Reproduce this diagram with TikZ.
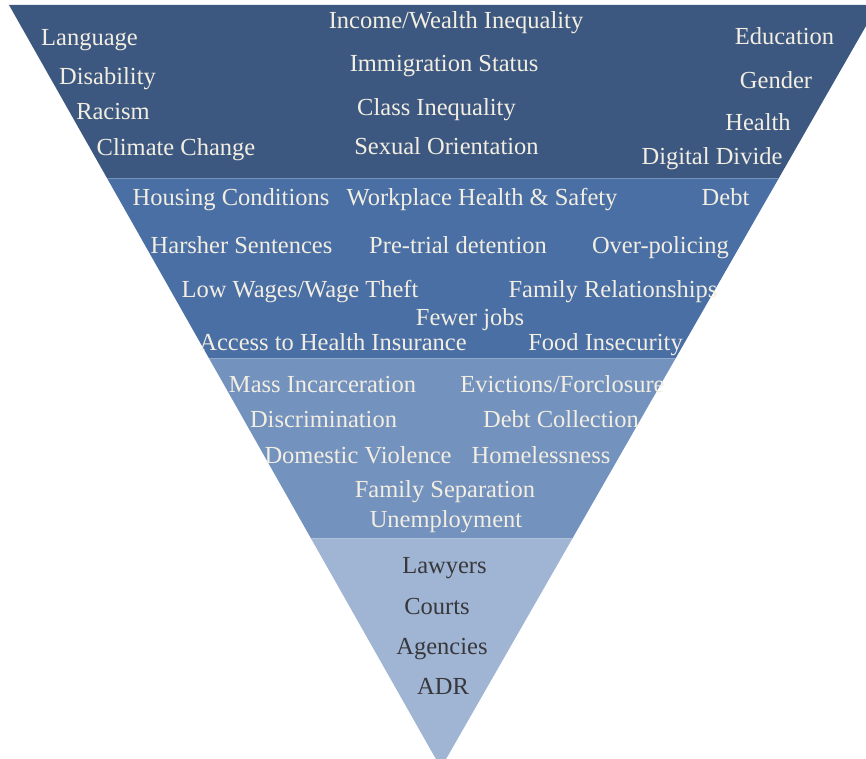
\documentclass[tikz,border=0pt]{standalone}
\usepackage{fontspec}
\setmainfont{Liberation Serif}
\definecolor{bandA}{RGB}{61,88,128}
\definecolor{bandB}{RGB}{74,111,165}
\definecolor{bandC}{RGB}{116,146,190}
\definecolor{bandD}{RGB}{160,181,211}
\definecolor{lighttext}{RGB}{242,238,226}
\definecolor{darktext}{RGB}{55,55,60}
\tikzset{
  lbl/.style={text=lighttext, inner sep=0pt, anchor=base, font=\fontsize{24.5}{28}\selectfont},
  dlbl/.style={lbl, text=darktext},
  sepline/.style={line width=0.8pt}
}
\begin{document}
\begin{tikzpicture}[x=1pt,y=-1pt]
\useasboundingbox (0,0) rectangle (866,759);
\begin{scope}
  \clip (9,5) -- (878,5) -- (450.9,750.6) .. controls (441,768) .. (431.1,750.6) -- cycle;
  \fill[bandA] (0,0) rectangle (880,178);
  \fill[bandB] (0,178) rectangle (880,358);
  \fill[bandC] (0,358) rectangle (880,538);
  \fill[bandD] (0,538) rectangle (880,770);
  \draw[sepline, bandB!75!white] (0,178.4) -- (880,178.4);
  \draw[sepline, bandC!80!white] (0,358.4) -- (880,358.4);
  \draw[sepline, bandD!85!white] (0,538.4) -- (880,538.4);
\end{scope}
% band 1
\node[lbl] (language) at (89.5,46) {Language};
\node[lbl] (disability) at (107.5,85) {Disability};
\node[lbl] (racism) at (113,120) {Racism};
\node[lbl] (climate) at (176,156) {Climate Change};
\node[lbl] (income) at (456,29) {Income/Wealth Inequality};
\node[lbl] (immigration) at (444,72) {Immigration Status};
\node[lbl] (class) at (436.5,116) {Class Inequality};
\node[lbl] (sexual) at (446.5,155) {Sexual Orientation};
\node[lbl] (education) at (784.5,45) {Education};
\node[lbl] (gender) at (776,89) {Gender};
\node[lbl] (health) at (758,131) {Health};
\node[lbl] (digital) at (712,165) {Digital Divide};
% band 2
\node[lbl] (housing) at (231,206) {Housing Conditions};
\node[lbl] (workplace) at (482,206) {Workplace Health \& Safety};
\node[lbl] (debt) at (725.5,206) {Debt};
\node[lbl] (harsher) at (241.5,253) {Harsher Sentences};
\node[lbl] (pretrial) at (458,253) {Pre-trial detention};
\node[lbl] (overpolicing) at (660.5,253) {Over-policing};
\node[lbl] (lowwages) at (300,297) {Low Wages/Wage Theft};
\node[lbl] (family) at (613,297) {Family Relationships};
\node[lbl] (fewer) at (470,325) {Fewer jobs};
\node[lbl] (access) at (333,350) {Access to Health Insurance};
\node[lbl] (food) at (605.5,350) {Food Insecurity};
% band 3
\node[lbl] (mass) at (322.5,392) {Mass Incarceration};
\node[lbl] (evictions) at (562.5,392) {Evictions/Forclosure};
\node[lbl] (discrimination) at (323.5,427) {Discrimination};
\node[lbl] (debtcoll) at (561,427) {Debt Collection};
\node[lbl] (domestic) at (358,463) {Domestic Violence};
\node[lbl] (homeless) at (541,463) {Homelessness};
\node[lbl] (separation) at (445,497) {Family Separation};
\node[lbl] (unemployment) at (446,527) {Unemployment};
% band 4
\node[dlbl] (lawyers) at (444.5,573) {Lawyers};
\node[dlbl] (courts) at (437,614) {Courts};
\node[dlbl] (agencies) at (442,654) {Agencies};
\node[dlbl] (adr) at (443,694) {ADR};
\end{tikzpicture}
\end{document}
